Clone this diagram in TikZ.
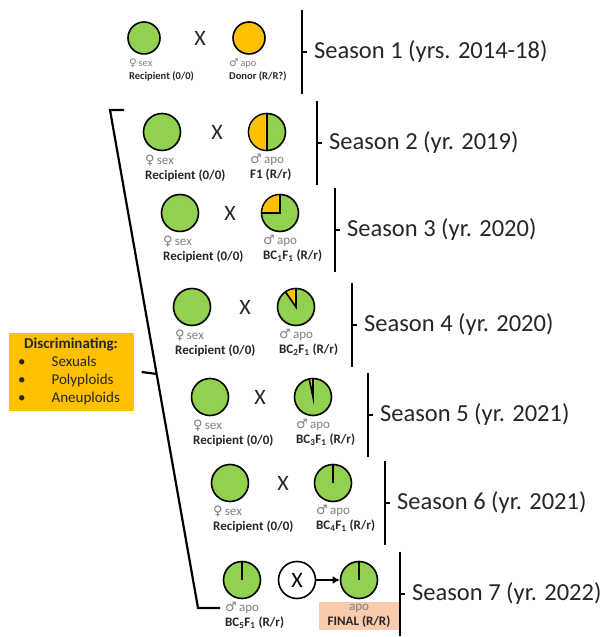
\documentclass[tikz,border=0pt]{standalone}
\usepackage{fontspec}
\setmainfont{Carlito}
\newfontfamily\symfont{DejaVu Sans}
\usetikzlibrary{positioning,arrows.meta,calc}

\definecolor{recgreen}{HTML}{92D050}
\definecolor{donorange}{HTML}{FFC000}
\definecolor{finalpeach}{HTML}{F8CBAD}
\definecolor{lblgrey}{HTML}{7F7F7F}
\definecolor{txtdark}{HTML}{262626}

\newcommand{\sexlbl}{{\color{lblgrey}{\symfont\char"2640}\,sex}}
\newcommand{\apolbl}{{\color{lblgrey}{\symfont\char"2642}\,apo}}

\begin{document}
\begin{tikzpicture}[x=1pt,y=1pt]
    \tikzstyle{plant} = [circle, draw, line width=1.6pt, fill=recgreen,
               minimum size=37pt, inner sep=0pt]
    \tikzstyle{small} = [minimum size=32pt]
    \tikzstyle{cross} = [font=\fontsize{22}{22}\selectfont, text=txtdark]
    \tikzstyle{lbl} = [anchor=north west, align=left, inner sep=0pt,
               font=\fontsize{13}{15}\selectfont, text=txtdark]
    \tikzstyle{lblsmall} = [font=\fontsize{10.5}{13}\selectfont]
    \tikzstyle{season} = [anchor=west, inner sep=0pt,
               font=\fontsize{24.5}{26}\selectfont, text=txtdark]
    \tikzstyle{bracket} = [draw, line width=2.2pt]
    \tikzstyle{pieline} = [draw, line width=1.6pt]

    \useasboundingbox (0,0) rectangle (610,637);

    % Season 1
    \node[plant, small] (r1) at (144,599) {};
    \node[cross] (x1) at (200,599) {X};
    \node[plant, small, fill=donorange] (d1) at (249,599) {};
    \node[lbl, lblsmall] (r1l) at ([xshift=-15pt,yshift=-4pt]r1.south) {\sexlbl\\\textbf{Recipient (0/0)}};
    \node[lbl, lblsmall] (d1l) at ([xshift=-20pt,yshift=-4pt]d1.south) {\apolbl\\\textbf{Donor (R/R?)}};

    % Season 2
    \node[plant] (r2) at (162,505) {};
    \node[cross] (x2) at (217,505) {X};
    \node[plant] (p2) at (267,505) {};
    \fill[donorange] (p2.center) -- ++(90:17.7) arc[start angle=90, end angle=270, radius=17.7] -- cycle;
    \draw[pieline] ([yshift=18pt]p2.center) -- ([yshift=-18pt]p2.center);
    \node[lbl] (r2l) at ([xshift=-17pt,yshift=-3pt]r2.south) {\sexlbl\\\textbf{Recipient (0/0)}};
    \node[lbl] (p2l) at ([xshift=-17pt,yshift=-3pt]p2.south) {\apolbl\\\textbf{F1 (R/r)}};

    % Season 3
    \node[plant] (r3) at (180,424) {};
    \node[cross] (x3) at (230,424) {X};
    \node[plant] (p3) at (280,424) {};
    \fill[donorange] (p3.center) -- ++(90:17.7) arc[start angle=90, end angle=180, radius=17.7] -- cycle;
    \draw[pieline] ([yshift=18pt]p3.center) -- (p3.center) -- ([xshift=-18pt]p3.center);
    \node[lbl] (r3l) at ([xshift=-17pt,yshift=-3pt]r3.south) {\sexlbl\\\textbf{Recipient (0/0)}};
    \node[lbl] (p3l) at ([xshift=-17pt,yshift=-3pt]p3.south) {\apolbl\\\textbf{BC\textsubscript{1}F\textsubscript{1} (R/r)}};

    % Season 4
    \node[plant] (r4) at (192,330) {};
    \node[cross] (x4) at (245,330) {X};
    \node[plant] (p4) at (296,330) {};
    \fill[donorange] (p4.center) -- ++(90:17.7) arc[start angle=90, end angle=125, radius=17.7] -- cycle;
    \draw[pieline] (p4.center) ++(90:18) -- (p4.center) -- ++(125:18);
    \node[lbl] (r4l) at ([xshift=-17pt,yshift=-3pt]r4.south) {\sexlbl\\\textbf{Recipient (0/0)}};
    \node[lbl] (p4l) at ([xshift=-17pt,yshift=-3pt]p4.south) {\apolbl\\\textbf{BC\textsubscript{2}F\textsubscript{1} (R/r)}};

    % Season 5
    \node[plant] (r5) at (210,240) {};
    \node[cross] (x5) at (260,240) {X};
    \node[plant] (p5) at (313,240) {};
    \fill[donorange] (p5.center) -- ++(90:17.7) arc[start angle=90, end angle=102, radius=17.7] -- cycle;
    \draw[pieline] (p5.center) ++(90:18) -- (p5.center) -- ++(102:18);
    \node[lbl] (r5l) at ([xshift=-17pt,yshift=-3pt]r5.south) {\sexlbl\\\textbf{Recipient (0/0)}};
    \node[lbl] (p5l) at ([xshift=-17pt,yshift=-3pt]p5.south) {\apolbl\\\textbf{BC\textsubscript{3}F\textsubscript{1} (R/r)}};

    % Season 6
    \node[plant] (r6) at (230,154) {};
    \node[cross] (x6) at (283,154) {X};
    \node[plant] (p6) at (333,154) {};
    \draw[pieline] ([yshift=18pt]p6.center) -- (p6.center);
    \node[lbl] (r6l) at ([xshift=-17pt,yshift=-3pt]r6.south) {\sexlbl\\\textbf{Recipient (0/0)}};
    \node[lbl] (p6l) at ([xshift=-17pt,yshift=-3pt]p6.south) {\apolbl\\\textbf{BC\textsubscript{4}F\textsubscript{1} (R/r)}};

    % Season 7: selfing
    \node[plant] (p7) at (242,57) {};
    \node[plant, fill=white, font=\fontsize{22}{22}\selectfont] (xc7) at (297,57) {X};
    \node[plant] (f7) at (359,57) {};
    \draw[pieline] ([yshift=18pt]p7.center) -- (p7.center);
    \draw[pieline] ([yshift=18pt]f7.center) -- (f7.center);
    \draw[-{Latex[length=7pt,width=8pt]}, line width=2pt] (xc7) -- (f7);
    \node[lbl] (p7l) at ([xshift=-17pt,yshift=-3pt]p7.south) {\apolbl\\\textbf{BC\textsubscript{5}F\textsubscript{1} (R/r)}};
    \node[fill=finalpeach, align=center, inner sep=2pt, minimum width=80pt,
          font=\fontsize{13}{15}\selectfont, text=txtdark, below=3pt of f7] (f7l)
          {{\color{lblgrey}apo}\\\textbf{FINAL (R/R)}};

    % Season brackets
    \foreach \bx/\by/\nm/\txt in {302/585/s1/{Season 1 (yrs. 2014-18)},
        317/494/s2/{Season 2 (yr. 2019)}, 335/407/s3/{Season 3 (yr. 2020)},
        352/312/s4/{Season 4 (yr. 2020)}, 368/222/s5/{Season 5 (yr. 2021)},
        385/134/s6/{Season 6 (yr. 2021)}, 400/43/s7/{Season 7 (yr. 2022)}} {
      \draw[bracket] (\bx,\by+42) -- (\bx,\by-42);
      \draw[bracket] (\bx,\by) -- +(5,0);
      \node[season] (\nm) at (\bx+12,\by) {\txt};
    }

    % Discriminating box and left bracket
    \node[fill=donorange, inner sep=3pt, minimum width=125pt, minimum height=78pt,
          font=\fontsize{15}{18}\selectfont, text=txtdark] (discr) at (71,265)
          {\begin{tabular}{@{}l@{\hspace{26pt}}l@{}}
             \multicolumn{2}{c}{\textbf{Discriminating:}}\\
             \textbullet & Sexuals\\
             \textbullet & Polyploids\\
             \textbullet & Aneuploids
           \end{tabular}};
    \coordinate (lbtop) at (110,527);
    \coordinate (lbbot) at (198,29);
    \draw[bracket] ([xshift=14pt]lbtop) -- (lbtop) -- (lbbot) -- ([xshift=22pt]lbbot);
    \draw[bracket] ([xshift=8pt]discr.east) -- ($(lbtop)!0.53!(lbbot)$);
\end{tikzpicture}
\end{document}
